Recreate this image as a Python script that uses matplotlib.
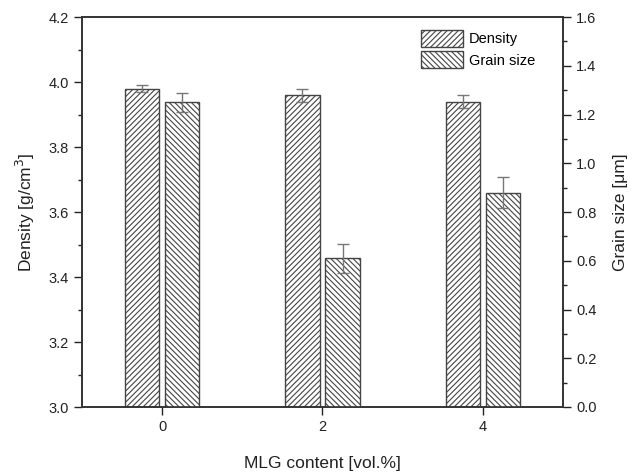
import matplotlib.pyplot as plt
import numpy as np
from matplotlib.ticker import MultipleLocator

plt.rcParams['font.family'] = ['Liberation Sans', 'DejaVu Sans']
plt.rcParams['hatch.color'] = '#555555'
plt.rcParams['hatch.linewidth'] = 0.8

mlg = [0, 2, 4]
density = [3.98, 3.96, 3.94]
density_err = [0.01, 0.02, 0.02]
grain = [1.25, 0.61, 0.88]
grain_err = [0.04, 0.06, 0.065]

fig = plt.figure(figsize=(6.33, 4.76), dpi=100)
ax = fig.add_axes([82/633, 69/476, 481/633, 390/476])
ax2 = ax.twinx()

x = np.array(mlg, dtype=float)
w = 0.43
err_kw = dict(ecolor='#777777', capsize=4, elinewidth=1, capthick=1)
b1 = ax.bar(x - 0.25, density, w, yerr=density_err, color='white', edgecolor='#444444',
            hatch='//////', linewidth=1, error_kw=err_kw, label='Density')
b2 = ax2.bar(x + 0.25, grain, w, yerr=grain_err, color='white', edgecolor='#444444',
             hatch='\\\\\\\\\\\\', linewidth=1, error_kw=err_kw, label='Grain size')

ax.set_xlim(-1, 5)
ax.set_ylim(3.0, 4.2)
ax2.set_ylim(0, 1.6)
ax.set_xticks(mlg)
ax.yaxis.set_major_locator(MultipleLocator(0.2))
ax.yaxis.set_minor_locator(MultipleLocator(0.1))
ax2.yaxis.set_major_locator(MultipleLocator(0.2))
ax2.yaxis.set_minor_locator(MultipleLocator(0.1))
ax.yaxis.set_major_formatter(plt.FormatStrFormatter('%.1f'))
ax2.yaxis.set_major_formatter(plt.FormatStrFormatter('%.1f'))

for a in (ax, ax2):
    a.tick_params(which='major', direction='out', length=6, width=1, labelsize=10.5, colors='#222222')
    a.tick_params(which='minor', direction='out', length=3, width=1, colors='#222222')
    for s in a.spines.values():
        s.set_linewidth(1.2)
        s.set_color('#333333')

ax.set_xlabel('MLG content [vol.%]', fontsize=12.5, labelpad=16, color='#222222')
ax.set_ylabel('Density [g/cm$^3$]', fontsize=12.5, labelpad=8, color='#222222')
ax2.set_ylabel('Grain size [μm]', fontsize=12.5, labelpad=12, color='#222222')

ax.legend([b1, b2], ['Density', 'Grain size'], loc='upper right', frameon=False,
          fontsize=10.5, handlelength=2.9, handleheight=1.4, borderaxespad=0.5,
          labelspacing=0.3, handletextpad=0.4, bbox_to_anchor=(0.97, 1.0))

fig.savefig('out.png', dpi=100)
